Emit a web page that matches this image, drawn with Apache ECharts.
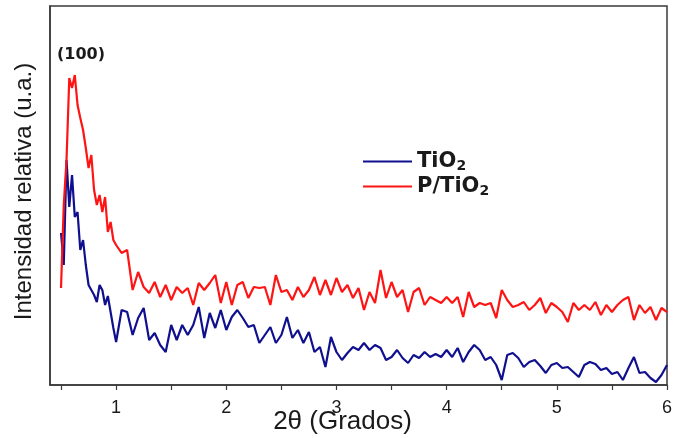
<!DOCTYPE html>
<html>
<head>
<meta charset="utf-8">
<script src="https://cdn.jsdelivr.net/npm/echarts@6/dist/echarts.min.js"></script>
<style>
html, body { margin: 0; padding: 0; background: #fff; }
#chart { width: 673px; height: 438px; }
</style>
</head>
<body>
<div id="chart"></div>
<script>
// 2θ (grados): paso fino en el pico, luego cada 0.05
const twoTheta = [
  0.5, 0.525, 0.55, 0.575, 0.6, 0.625, 0.65, 0.675, 0.7, 0.725, 0.75, 0.775, 0.8, 0.825, 0.85, 0.875, 0.9, 0.925, 0.95, 0.975, 1.0,
  1.05, 1.1, 1.15, 1.2, 1.25, 1.3, 1.35, 1.4, 1.45, 1.5, 1.55, 1.6, 1.65, 1.7, 1.75, 1.8, 1.85, 1.9, 1.95, 2.0,
  2.05, 2.1, 2.15, 2.2, 2.25, 2.3, 2.35, 2.4, 2.45, 2.5, 2.55, 2.6, 2.65, 2.7, 2.75, 2.8, 2.85, 2.9, 2.95, 3.0,
  3.05, 3.1, 3.15, 3.2, 3.25, 3.3, 3.35, 3.4, 3.45, 3.5, 3.55, 3.6, 3.65, 3.7, 3.75, 3.8, 3.85, 3.9, 3.95, 4.0,
  4.05, 4.1, 4.15, 4.2, 4.25, 4.3, 4.35, 4.4, 4.45, 4.5, 4.55, 4.6, 4.65, 4.7, 4.75, 4.8, 4.85, 4.9, 4.95, 5.0,
  5.05, 5.1, 5.15, 5.2, 5.25, 5.3, 5.35, 5.4, 5.45, 5.5, 5.55, 5.6, 5.65, 5.7, 5.75, 5.8, 5.85, 5.9, 5.95, 6.0
]

// TiO2
const tio2 = [
  152, 120, 225, 178, 210, 168, 173, 135, 145, 120, 100, 95, 90, 83, 100, 95, 80, 89, 73, 57, 43,
  75, 73, 50, 67, 77, 45, 52, 40, 33, 60, 45, 60, 50, 60, 78, 47, 72, 57, 75, 55,
  68, 75, 67, 58, 60, 42, 50, 58, 42, 50, 68, 47, 55, 42, 53, 33, 38, 18, 48, 33,
  25, 32, 38, 35, 42, 35, 40, 37, 25, 28, 35, 27, 22, 30, 27, 33, 28, 31, 28, 35,
  28, 37, 23, 33, 40, 35, 25, 28, 20, 5, 30, 32, 27, 18, 23, 25, 19, 12, 20, 22,
  17, 18, 13, 8, 20, 23, 21, 15, 17, 11, 13, 5, 17, 28, 12, 13, 7, 3, 10, 20
]

// P/TiO2
const ptio2 = [
  97, 180, 225, 307, 297, 310, 280, 267, 255, 237, 217, 230, 195, 180, 190, 173, 188, 153, 163, 145, 140,
  132, 135, 95, 113, 98, 92, 103, 88, 100, 85, 98, 92, 97, 80, 102, 95, 102, 110, 82, 103,
  80, 100, 103, 87, 98, 97, 98, 80, 110, 93, 95, 85, 98, 88, 95, 108, 90, 105, 90, 107,
  93, 100, 87, 97, 75, 93, 82, 115, 87, 103, 88, 95, 73, 93, 97, 80, 88, 85, 82, 88,
  82, 88, 68, 93, 78, 82, 80, 82, 67, 95, 85, 78, 80, 83, 75, 80, 87, 72, 82, 78,
  73, 63, 82, 75, 80, 75, 83, 70, 80, 73, 80, 85, 88, 65, 80, 72, 78, 65, 77, 73
]

const xTicks = [0.5, 1, 1.5, 2, 2.5, 3, 3.5, 4, 4.5, 5, 5.5, 6]
const xLabels = [1, 2, 3, 4, 5, 6]

const chart = echarts.init(document.getElementById('chart'))
chart.setOption({
  animation: false,
  grid: {
    left: 50,
    right: 6,
    top: 6,
    bottom: 53,
    outerBoundsMode: 'none',
    show: true,
    borderColor: '#3a3a3a',
    borderWidth: 1.5
  },
  legend: {
    orient: 'vertical',
    left: 363,
    top: 151,
    padding: 0,
    icon: 'rect',
    itemWidth: 49,
    itemHeight: 2,
    itemGap: 3,
    formatter: name => '{m|' + name.replace('2', '}{s|2}'),
    textStyle: {
      rich: {
        m: { fontFamily: 'DejaVu Sans', fontWeight: 'bold', fontSize: 21, lineHeight: 23, color: '#1a1a1a' },
        s: { fontFamily: 'DejaVu Sans', fontWeight: 'bold', fontSize: 14, lineHeight: 16, verticalAlign: 'bottom', color: '#1a1a1a' }
      }
    },
    data: ['TiO2', 'P/TiO2']
  },
  xAxis: {
    type: 'value',
    min: 0.4,
    max: 6,
    name: '2θ (Grados)',
    nameLocation: 'middle',
    nameGap: 24,
    nameMoveOverlap: false,
    nameTextStyle: { fontFamily: 'Liberation Sans', fontSize: 26, color: '#1a1a1a', padding: [0, 32, 0, 0] },
    axisLine: { lineStyle: { color: '#3a3a3a', width: 1.5 } },
    axisTick: { customValues: xTicks, length: 5, lineStyle: { color: '#3a3a3a', width: 1.2 } },
    axisLabel: { customValues: xLabels, margin: 14, fontFamily: 'Liberation Sans', fontSize: 18, color: '#1a1a1a' },
    splitLine: { show: false }
  },
  yAxis: {
    type: 'value',
    min: 0,
    max: 379,
    name: 'Intensidad relativa (u.a.)',
    nameLocation: 'middle',
    nameGap: 14,
    nameMoveOverlap: false,
    nameTextStyle: { fontFamily: 'Liberation Sans', fontSize: 24, color: '#1a1a1a', padding: [0, 0, 0, 8] },
    axisLine: { show: true, lineStyle: { color: '#3a3a3a', width: 1.5 } },
    axisTick: { show: false },
    axisLabel: { show: false },
    splitLine: { show: false }
  },
  graphic: [
    {
      type: 'text',
      left: 57,
      top: 47,
      style: { text: '(100)', fontFamily: 'DejaVu Sans', fontWeight: 'bold', fontSize: 16, fill: '#1a1a1a' }
    }
  ],
  series: [
    {
      name: 'TiO2',
      type: 'line',
      showSymbol: false,
      color: '#10108f',
      lineStyle: { width: 2.2 },
      data: twoTheta.map((x, i) => [x, tio2[i]])
    },
    {
      name: 'P/TiO2',
      type: 'line',
      showSymbol: false,
      color: '#ff1414',
      lineStyle: { width: 2.2 },
      data: twoTheta.map((x, i) => [x, ptio2[i]])
    }
  ]
})
</script>
</body>
</html>
